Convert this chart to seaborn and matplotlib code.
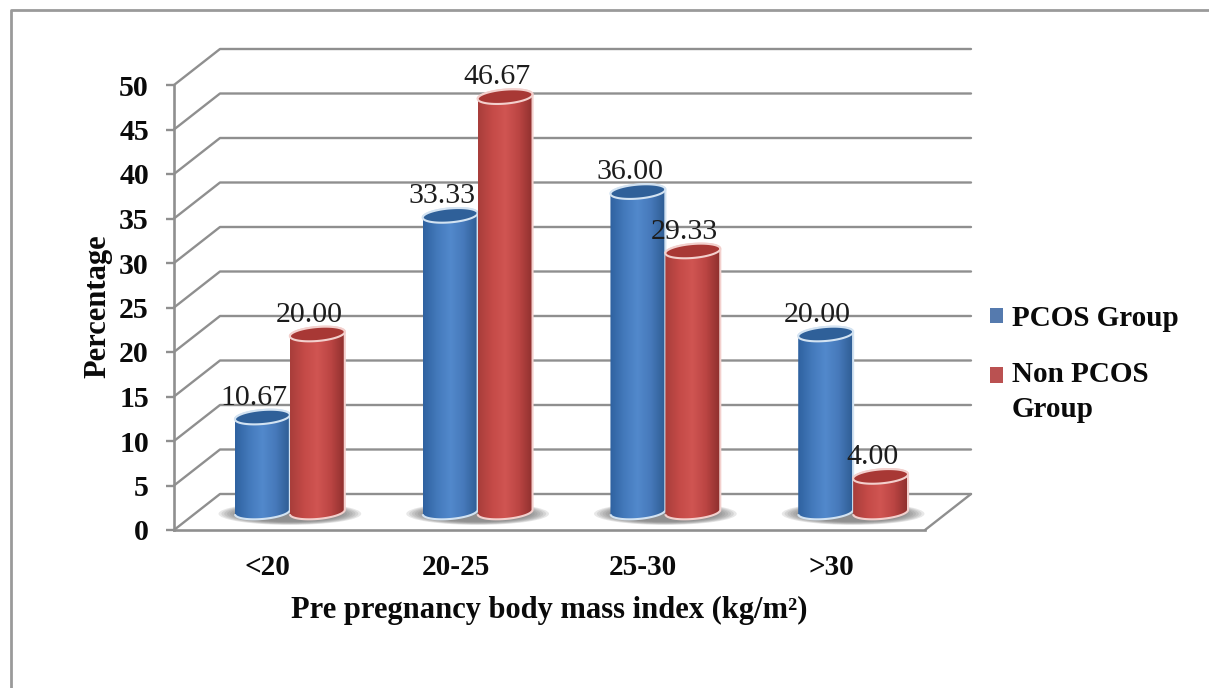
import numpy as np
import pandas as pd
import matplotlib
matplotlib.use("Agg")
import matplotlib.pyplot as plt
import seaborn as sns
from matplotlib.colors import LinearSegmentedColormap
from matplotlib.lines import Line2D
from matplotlib.patches import Ellipse, PathPatch
from matplotlib.path import Path
from matplotlib.transforms import Affine2D

categories = ["<20", "20-25", "25-30", ">30"]
pcos_values = [10.67, 33.33, 36.00, 20.00]
non_pcos_values = [20.00, 46.67, 29.33, 4.00]
group_names = ["PCOS Group", "Non PCOS\nGroup"]
y_ticks = list(range(0, 55, 5))
x_title = "Pre pregnancy body mass index (kg/m²)"
y_title = "Percentage"

sns.set_theme(style="white")
plt.rcParams["font.family"] = ["Liberation Serif", "DejaVu Serif"]

W, H = 1209, 688
fig = plt.figure(figsize=(W / 100, H / 100), dpi=100, facecolor="white")
ax = fig.add_axes([174 / W, 1 - 530 / H, (925 - 174) / W, (530 - 85) / H])
ax.patch.set_alpha(0)

df = pd.DataFrame({
    "cat": categories * 2,
    "value": pcos_values + non_pcos_values,
    "group": [group_names[0]] * 4 + [group_names[1]] * 4,
})
sns.barplot(data=df, x="cat", y="value", hue="group", order=categories,
            hue_order=group_names, palette=["#4678bd", "#cb4040"],
            width=0.585, gap=0, dodge=True, ax=ax, errorbar=None, legend=True)

ax.set_xlim(-0.5, 3.5)
ax.set_ylim(0, 50)
ax.set_yticks(y_ticks)

# depth of the 3-D box, in data units
back_dx, back_dy = 46 / 187.75, 36 / 8.9
bar_dx, bar_dy = 22 / 187.75, 18 / 8.9
bar_tr = Affine2D().translate(bar_dx, bar_dy) + ax.transData

GRID = "#8f8f8f"
grid_kw = dict(color=GRID, lw=1.7, clip_on=False, zorder=1, solid_capstyle="round")
for v in y_ticks:
    ax.plot([-0.5, -0.5 + back_dx, 3.5 + back_dx], [v, v + back_dy, v + back_dy], **grid_kw)
ax.plot([3.5, 3.5 + back_dx], [0, back_dy], **grid_kw)

for side in ("top", "right"):
    ax.spines[side].set_visible(False)
for side in ("left", "bottom"):
    ax.spines[side].set_color(GRID)
    ax.spines[side].set_linewidth(1.9)
    ax.spines[side].set_zorder(1.5)

ax.tick_params(axis="y", left=True, length=6, width=1.7, color=GRID, pad=12,
               labelsize=21.5, labelcolor="#0a0a0a")
ax.tick_params(axis="x", bottom=False, pad=11, labelsize=21, labelcolor="#0a0a0a")
for lab in ax.get_xticklabels() + ax.get_yticklabels():
    lab.set_fontweight("bold")

ax.set_xlabel(x_title, fontsize=22, fontweight="bold", color="#0a0a0a", labelpad=11)
ax.set_ylabel(y_title, fontsize=22, fontweight="bold", color="#0a0a0a", labelpad=12)
ax.yaxis.set_label_coords(-0.082, 0.503)

# cylinder styling
cmaps = [
    LinearSegmentedColormap.from_list("b", ["#2f62a0", "#4379bb", "#5289cc", "#4679ba", "#2f5d94"]),
    LinearSegmentedColormap.from_list("r", ["#a83e3b", "#c44a47", "#d05552", "#bb4543", "#8f302e"]),
]
top_colors = ["#2f6099", "#a83835"]
rim_colors = ["#d3e3f2", "#f3d0cd"]
B = 7 / 8.9       # half height of the elliptical caps
TILT = 2.2 / 8.9  # caps lean a little
ts = np.linspace(0, 2 * np.pi, 73)

# shadows under every group
for i in range(len(categories)):
    for s in np.linspace(1.0, 0.72, 8):
        ax.add_patch(Ellipse((i, -0.2), 0.76 * s, 2.5 * s, fc="#707070",
                             alpha=0.16, ec="none", transform=bar_tr, zorder=2, clip_on=False))

z = 3.0
for gi, container in enumerate(ax.containers):
    for bar in container:
        x0, w, h = bar.get_x(), bar.get_width(), bar.get_height()
        bar.set_visible(False)
        xm, a = x0 + w / 2, w / 2
        xs = xm + a * np.cos(ts)
        low = ts[36:]  # pi .. 2pi, lower arc
        up = ts[:37]   # 0 .. pi, upper arc
        bx = xm + a * np.cos(low)
        by = B * np.sin(low) + TILT * np.cos(low)
        tx = xm + a * np.cos(up)
        ty = h + B * np.sin(up) + TILT * np.cos(up)
        body = PathPatch(Path(np.r_[np.c_[bx, by], np.c_[tx, ty]]), fc="none",
                         ec=rim_colors[gi], lw=1.5, transform=bar_tr, zorder=z + 0.2,
                         clip_on=False)
        ax.add_patch(body)
        im = ax.imshow(np.linspace(0, 1, 64)[None, :], extent=[x0, x0 + w, -2, h + 2],
                       aspect="auto", cmap=cmaps[gi], transform=bar_tr, zorder=z,
                       interpolation="bilinear", clip_on=True)
        im.set_clip_path(body)
        cap = PathPatch(Path(np.c_[xs, h + B * np.sin(ts) + TILT * np.cos(ts)]),
                        fc=top_colors[gi], ec=rim_colors[gi], lw=1.5,
                        transform=bar_tr, zorder=z + 0.3, clip_on=False)
        ax.add_patch(cap)
        z += 1
        ax.annotate(f"{h:.2f}", xy=(xm, h), xycoords=bar_tr, xytext=(-5.8, 14),
                    textcoords="offset points", ha="center", va="center",
                    fontsize=21.5, color="#1c1c1c", zorder=30, annotation_clip=False)

ax.set_xlim(-0.5, 3.5)
ax.set_ylim(0, 50)

# legend
old = ax.get_legend()
handles = old.legend_handles
leg = ax.legend(handles, group_names, loc="upper left", frameon=False,
                bbox_to_anchor=(990 / W, 1 - 305 / H),
                bbox_transform=fig.transFigure, prop=dict(size=21, weight="bold"),
                handlelength=0.45, handleheight=0.45, handletextpad=0.3,
                labelspacing=1.0, borderpad=0, borderaxespad=0, labelcolor="#0a0a0a")
for t in leg.get_texts():
    t.set_linespacing(1.38)
leg_patches = leg.get_patches()
leg_patches[1].set_y(leg_patches[1].get_y() + 12.6)
for p in leg_patches:
    p.set_edgecolor("none")

# picture frame
frame_kw = dict(color="#9a9a9a", lw=2.0, transform=fig.transFigure)
fig.add_artist(Line2D([11 / W, 11 / W, 1], [0, 1 - 10 / H, 1 - 10 / H], **frame_kw))

fig.savefig("out.png", dpi=100, facecolor="white")
